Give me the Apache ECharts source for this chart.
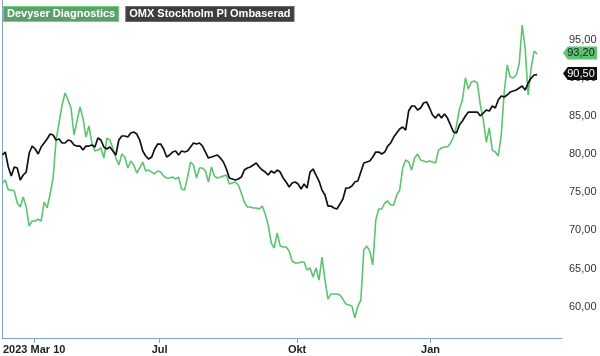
<!DOCTYPE html>
<html>
<head>
<meta charset="utf-8">
<script src="https://cdn.jsdelivr.net/npm/echarts@6/dist/echarts.min.js"></script>
<style>html,body{margin:0;padding:0;background:#fff}#c{width:600px;height:356px}</style>
</head>
<body>
<div id="c"></div>
<script>
// Series names
const seriesNames = ['Devyser Diagnostics', 'OMX Stockholm PI Ombaserad'];

// Devyser Diagnostics (SEK), trading-day samples
const devyser = [
76.24,76.63,75.31,75.31,75.18,73.61,73.08,74.39,73.08,70.58,
71.24,71.24,71.50,71.24,73.74,72.95,74.79,76.89,81.89,84.13,
86.49,88.07,87.15,86.10,82.55,84.39,86.23,84.78,82.28,83.73,
81.50,80.44,80.57,80.84,79.52,82.15,81.89,80.84,79.52,78.60,
80.05,79.65,78.21,79.13,78.60,77.55,78.21,79.00,77.81,77.94,
77.68,77.42,77.81,77.68,77.16,76.89,76.89,77.02,76.76,77.02,
75.45,75.31,77.02,79.00,78.60,76.89,78.21,78.21,77.81,76.37,
78.34,77.16,76.89,77.02,77.16,77.29,76.10,76.24,76.37,75.97,
74.92,73.74,73.08,73.08,72.95,72.95,72.82,73.21,72.16,70.71,
68.35,67.69,69.66,67.95,67.82,67.82,67.29,65.98,65.72,65.72,
65.85,65.85,64.79,65.06,63.87,65.06,63.48,66.50,63.48,60.98,
61.64,61.64,61.64,61.51,60.98,60.32,60.19,60.06,58.50,60.06,
60.85,67.42,67.95,67.29,65.45,71.37,72.82,72.82,73.61,73.87,
73.34,73.34,74.66,75.31,78.21,79.26,79.00,77.94,79.52,80.05,
79.26,79.13,79.00,79.13,79.00,78.87,80.57,80.84,80.97,80.97,
81.50,82.28,83.73,85.97,87.15,90.04,88.60,89.52,89.65,89.39,
86.49,84.52,81.60,83.50,80.57,80.31,79.79,82.55,88.20,91.75,
90.17,90.04,90.44,91.88,97.01,93.99,87.81,91.36,93.59,93.20
];

// OMX Stockholm PI, rebased
const omx = [
79.92,80.31,78.34,77.16,78.34,78.21,76.63,77.29,77.68,80.18,
81.10,80.71,80.05,80.97,81.50,82.02,82.68,82.55,81.89,82.02,
81.50,81.50,81.89,81.76,81.23,81.10,81.10,80.57,81.10,81.10,
81.23,80.97,82.15,81.89,80.97,80.71,80.97,80.44,79.92,81.89,
82.42,82.42,82.28,82.81,82.94,82.68,81.89,80.44,79.79,79.39,
79.65,80.71,81.36,81.36,80.71,79.65,79.92,80.31,80.44,79.92,
80.44,80.31,80.44,80.97,81.50,81.36,81.50,81.10,80.31,79.52,
79.65,79.79,79.92,79.52,79.00,78.08,76.89,76.76,76.63,76.76,
77.02,77.94,78.21,78.34,78.60,78.87,78.34,77.94,77.68,77.29,
77.81,77.55,77.94,77.68,76.89,76.37,75.71,76.24,76.37,76.10,
75.45,76.10,75.58,77.68,78.08,77.29,76.50,75.31,74.66,73.21,
73.21,72.95,72.82,73.47,74.13,75.58,75.58,75.84,76.37,76.50,
77.68,78.87,79.00,79.13,79.65,80.31,80.31,80.05,80.31,81.10,
81.50,82.28,82.81,83.34,83.60,83.20,85.70,86.36,86.36,85.83,
86.10,86.76,86.89,86.10,85.18,84.78,85.31,84.78,85.31,84.78,
83.86,82.94,82.81,83.86,84.39,85.05,85.57,85.57,85.57,85.57,
85.05,85.44,85.83,85.70,86.36,86.10,87.15,87.68,87.54,87.81,
88.20,88.33,88.46,88.73,88.99,88.46,89.39,90.04,90.44,90.50
];

// X-axis tick positions (trading-day index) and labels
const xTickIdx = [10.67, 52.67, 98.67, 143.33];
const xTickLabels = ['2023 Mar 10', 'Jul', 'Okt', 'Jan'];
const xMaxIdx = 187.33;

// Y-axis tick values
const yTicks = [60, 65, 70, 75, 80, 85, 90, 95];
const yMin = 55.86, yMax = 100.3;

const fmt = v => v.toFixed(2).replace('.', ',');
const toPairs = arr => arr.map((v, i) => [i, v]);

const tagPath = 'path://M0,6 L5,0 L36,0 L36,12 L5,12 Z';
function tag(arr, fill, textColor) {
  const last = arr[arr.length - 1];
  return {
    silent: true,
    symbol: tagPath,
    symbolSize: [34, 13],
    symbolOffset: [18, -1],
    symbolKeepAspect: false,
    itemStyle: { color: fill },
    label: {
      show: true, position: 'inside', offset: [1, 0],
      color: textColor, fontSize: 11, fontFamily: 'Liberation Sans, Arial, sans-serif',
      formatter: () => fmt(last)
    },
    data: [{ coord: [xMaxIdx, last] }]
  };
}

const chart = echarts.init(document.getElementById('c'), null, { renderer: 'canvas' });
chart.setOption({
  animation: false,
  backgroundColor: '#fff',
  grid: { left: 0, right: 38, top: 0, bottom: 18, containLabel: false },
  legend: {
    left: -6, top: 1, itemWidth: 0, itemHeight: 0, itemGap: 2, icon: 'rect',
    selectedMode: false,
    data: [
      { name: seriesNames[0], textStyle: { color: '#fff', backgroundColor: '#5d9f6c', borderColor: '#6dd47f', borderWidth: 1, padding: [1, 3, 0, 3], fontWeight: 'bold', fontSize: 11, lineHeight: 13, fontFamily: 'Liberation Sans, Arial, sans-serif' } },
      { name: seriesNames[1], textStyle: { color: '#fff', backgroundColor: '#3e3e3e', borderColor: '#6a6a6a', borderWidth: 1, padding: [1, 3, 0, 3], fontWeight: 'bold', fontSize: 11, lineHeight: 13, fontFamily: 'Liberation Sans, Arial, sans-serif' } }
    ]
  },
  xAxis: {
    type: 'value', min: 0, max: xMaxIdx,
    splitLine: { show: false },
    axisLine: { show: true, lineStyle: { color: '#7ea6c4', width: 1 } },
    axisTick: { show: true, customValues: xTickIdx, length: 5, lineStyle: { color: '#7ea6c4' } },
    axisLabel: {
      customValues: xTickIdx, margin: 6,
      color: '#222', fontWeight: 'bold', fontSize: 11, fontFamily: 'Liberation Sans, Arial, sans-serif',
      formatter: v => { const k = xTickIdx.findIndex(t => Math.abs(t - v) < 1e-6); return k >= 0 ? xTickLabels[k] : ''; }
    }
  },
  yAxis: {
    type: 'value', position: 'right', min: yMin, max: yMax,
    splitLine: { show: false },
    axisLine: { show: true, lineStyle: { color: '#7ea6c4', width: 1 } },
    axisTick: { show: false },
    axisLabel: {
      customValues: yTicks, margin: 7,
      color: '#333', fontSize: 11, fontFamily: 'Liberation Sans, Arial, sans-serif',
      formatter: v => fmt(v)
    }
  },
  series: [
    {
      name: seriesNames[0], type: 'line', data: toPairs(devyser), showSymbol: false,
      lineStyle: { color: '#5cc46e', width: 1.6 }, itemStyle: { color: '#5cc46e' },
      markPoint: tag(devyser, '#5cc46e', '#1f1f1f'), z: 2
    },
    {
      name: seriesNames[1], type: 'line', data: toPairs(omx), showSymbol: false,
      lineStyle: { color: '#111', width: 1.7 }, itemStyle: { color: '#111' },
      markPoint: tag(omx, '#0d0d0d', '#ffffff'), z: 3
    }
  ]
});
</script>
</body>
</html>
